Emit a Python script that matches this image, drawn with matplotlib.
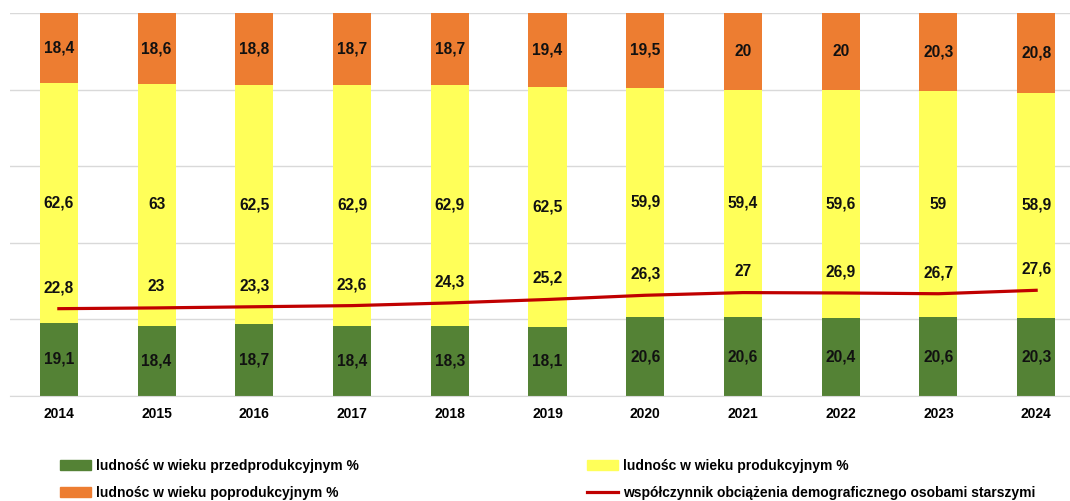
import numpy as np
import matplotlib.pyplot as plt
from matplotlib.lines import Line2D
from matplotlib.patches import Patch

plt.rcParams['font.family'] = ['Liberation Sans', 'DejaVu Sans']

years      = ['2014', '2015', '2016', '2017', '2018', '2019', '2020', '2021', '2022', '2023', '2024']
pre_prod   = [19.1, 18.4, 18.7, 18.4, 18.3, 18.1, 20.6, 20.6, 20.4, 20.6, 20.3]
prod       = [62.6, 63, 62.5, 62.9, 62.9, 62.5, 59.9, 59.4, 59.6, 59, 58.9]
post_prod  = [18.4, 18.6, 18.8, 18.7, 18.7, 19.4, 19.5, 20, 20, 20.3, 20.8]
old_ratio  = [22.8, 23, 23.3, 23.6, 24.3, 25.2, 26.3, 27, 26.9, 26.7, 27.6]

GREEN  = '#548235'
YELLOW = '#FFFF59'
ORANGE = '#ED7D31'
RED    = '#C00000'

def fmt(v):
    s = f'{v:g}'
    return s.replace('.', ',')

fig = plt.figure(figsize=(10.7, 5.01), dpi=100)
ax = fig.add_axes([10/1070, 1 - 396/501, 1075/1070, 383/501])

x = np.arange(len(years))
w = 0.39
pre = np.array(pre_prod)
pro = np.array(prod)
post = np.array(post_prod)

ax.bar(x, pre, w, color=GREEN, zorder=2)
ax.bar(x, pro, w, bottom=pre, color=YELLOW, zorder=2)
ax.bar(x, post, w, bottom=pre + pro, color=ORANGE, zorder=2)
ax.plot(x, old_ratio, color=RED, lw=2.3, zorder=3)

lbl = dict(ha='center', va='center', fontsize=11.2, fontweight='bold', color='#111111', zorder=4)
for i in range(len(years)):
    ax.text(x[i], pre[i] / 2, fmt(pre[i]), **lbl)
    ax.text(x[i], pre[i] + pro[i] / 2, fmt(pro[i]), **lbl)
    ax.text(x[i], pre[i] + pro[i] + post[i] / 2, fmt(post[i]), **lbl)
    ax.text(x[i], old_ratio[i] + 5.5, fmt(old_ratio[i]), **lbl)

ax.set_xlim(-0.5, len(years) - 0.5)
ax.set_ylim(0, 100)
ax.set_yticks([0, 20, 40, 60, 80, 100])
ax.set_yticklabels([])
ax.yaxis.grid(True, color='#d9d9d9', lw=1)
ax.set_axisbelow(True)
ax.tick_params(axis='y', length=0)
ax.tick_params(axis='x', length=0, pad=8)
ax.set_xticks(x)
ax.set_xticklabels(years, fontsize=10, fontweight='bold')
for s in ['top', 'right', 'left']:
    ax.spines[s].set_visible(False)
ax.spines['bottom'].set_color('#d9d9d9')

leg_kw = dict(frameon=False, prop={'weight': 'bold', 'size': 10},
              handlelength=2.2, handletextpad=0.4, labelspacing=0.92,
              borderpad=0, borderaxespad=0)
h1 = [Patch(color=GREEN), Patch(color=ORANGE)]
l1 = ['ludność w wieku przedprodukcyjnym %', 'ludnośc w wieku poprodukcyjnym %']
h2 = [Patch(color=YELLOW), Line2D([], [], color=RED, lw=2.3)]
l2 = ['ludnośc w wieku produkcyjnym %',
      'współczynnik obciążenia demograficznego osobami starszymi']
fig.legend(h1, l1, loc='upper left', bbox_to_anchor=(60/1070, 1 - 459/501), **leg_kw)
fig.legend(h2, l2, loc='upper left', bbox_to_anchor=(587/1070, 1 - 459/501), **leg_kw)

fig.savefig('out.png', dpi=100)
